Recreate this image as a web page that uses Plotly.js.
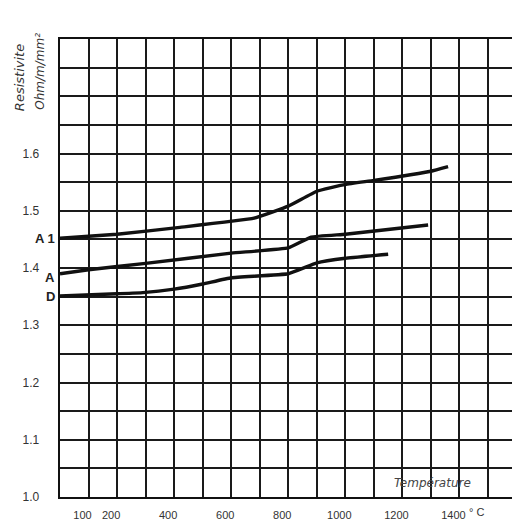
<!DOCTYPE html>
<html>
<head>
<meta charset="utf-8">
<script src="https://cdn.plot.ly/plotly-3.0.1.min.js"></script>
<style>html,body{margin:0;padding:0;background:#fff;}#chart{width:512px;height:522px;}</style>
</head>
<body>
<div id="chart"></div>
<script>
// Curve A1
const tempA1 = [0, 200, 420, 680, 800, 900, 1000, 1100, 1300, 1360];
const rhoA1  = [1.452, 1.459, 1.471, 1.487, 1.508, 1.534, 1.546, 1.553, 1.569, 1.577];
// Curve A
const tempA = [0, 100, 300, 600, 800, 880, 1000, 1290];
const rhoA  = [1.390, 1.397, 1.408, 1.426, 1.435, 1.454, 1.459, 1.475];
// Curve D
const tempD = [0, 200, 290, 400, 500, 600, 800, 900, 1000, 1150];
const rhoD  = [1.351, 1.355, 1.357, 1.363, 1.372, 1.383, 1.390, 1.409, 1.417, 1.424];

const curveNames = ["A 1", "A", "D"];
const curveLabelY = [1.452, 1.383, 1.351];

const xTickVals = [0,100,200,300,400,500,600,700,800,900,1000,1100,1200,1300,1400,1500];
const xTickText = ["","100","200","","400","","600","","800","","1000","","1200","","1400",""];
const yTickVals = [1.0,1.05,1.1,1.15,1.2,1.25,1.3,1.35,1.4,1.45,1.5,1.55,1.6,1.65,1.7,1.75,1.8];
const yTickText = ["1.0","","1.1","","1.2","","1.3","","1.4","","1.5","","1.6","","","",""];

const yTitle1 = "Resistivite";
const yTitle2 = "Ohm/m/mm²";
const xTitle = "Température";
const unitLabel = "° C";

const lineStyle = {color: "#111", width: 3.4, shape: "spline", smoothing: 0.3};
const traces = [
  {x: tempA1, y: rhoA1, mode: "lines", line: lineStyle, hoverinfo: "skip"},
  {x: tempA,  y: rhoA,  mode: "lines", line: lineStyle, hoverinfo: "skip"},
  {x: tempD,  y: rhoD,  mode: "lines", line: lineStyle, hoverinfo: "skip"}
];

const annotations = [];
curveNames.forEach((n, i) => {
  annotations.push({xref: "paper", yref: "y", x: 0, y: curveLabelY[i], text: "<b>" + n + "</b>",
    showarrow: false, xanchor: "right", yanchor: "middle", xshift: -3,
    font: {family: "Liberation Sans, Arial", size: 13, color: "#222"}});
});
annotations.push({xref: "paper", yref: "paper", x: -0.088, y: 0.915, text: "<i>" + yTitle1 + "</i>",
  textangle: -90, showarrow: false, xanchor: "center", yanchor: "middle",
  font: {family: "DejaVu Sans", size: 13, color: "#333"}});
annotations.push({xref: "paper", yref: "paper", x: -0.045, y: 0.93, text: "<i>" + yTitle2 + "</i>",
  textangle: -90, showarrow: false, xanchor: "center", yanchor: "middle",
  font: {family: "DejaVu Sans", size: 12, color: "#333"}});
annotations.push({xref: "x", yref: "y", x: 1307, y: 1.024, text: "<i>" + xTitle + "</i>",
  showarrow: false, xanchor: "center", yanchor: "middle",
  font: {family: "DejaVu Sans", size: 12, color: "#444"}});
annotations.push({xref: "x", yref: "paper", x: 1400, y: 0, text: unitLabel,
  showarrow: false, xanchor: "left", yanchor: "top", xshift: 8, yshift: -7,
  font: {family: "Liberation Sans, Arial", size: 11, color: "#333"}});

const layout = {
  width: 512, height: 522,
  margin: {l: 60, r: 0, t: 39, b: 25},
  paper_bgcolor: "#fff", plot_bgcolor: "#fff",
  showlegend: false,
  xaxis: {range: [0, 1584], tickmode: "array", tickvals: xTickVals, ticktext: xTickText,
    showgrid: true, gridcolor: "#1a1a1a", gridwidth: 2, zeroline: false,
    showline: true, linecolor: "#111", linewidth: 2.4, mirror: true,
    ticks: "", ticklabelshift: -6, ticklabelstandoff: 6,
    tickfont: {family: "Liberation Sans, Arial", size: 11, color: "#333"}},
  yaxis: {range: [1.0, 1.8], tickmode: "array", tickvals: yTickVals, ticktext: yTickText,
    showgrid: true, gridcolor: "#1a1a1a", gridwidth: 2, zeroline: false,
    showline: true, linecolor: "#111", linewidth: 2.4,
    ticks: "", ticklabelstandoff: 16,
    tickfont: {family: "Liberation Sans, Arial", size: 12, color: "#333"}},
  annotations: annotations
};

Plotly.newPlot("chart", traces, layout, {staticPlot: true, displayModeBar: false});
</script>
</body>
</html>
